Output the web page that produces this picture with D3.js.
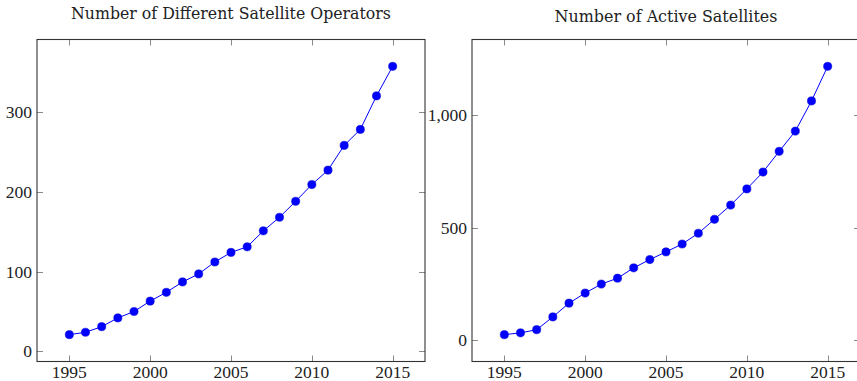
<!DOCTYPE html>
<html><head><meta charset="utf-8">
<script src="https://cdn.jsdelivr.net/npm/d3@7"></script>
<style>
html,body{margin:0;padding:0;background:#fff;}
svg{display:block;}
text{font-family:"Liberation Serif","Times New Roman",serif;fill:#222;}
text.title{font-family:"DejaVu Serif",serif;}
</style></head>
<body>
<svg id="chart" width="857" height="381"></svg>
<script>
const years = [1995,1996,1997,1998,1999,2000,2001,2002,2003,2004,2005,2006,2007,2008,2009,2010,2011,2012,2013,2014,2015];
const operators = [21,24,31,42,50,63,74,87,97,112,124,131,151,168,188,209,227,258,278,320,357];
const activeSatellites = [24,32,46,103,164,209,249,275,321,358,392,427,475,537,600,672,747,839,929,1063,1217];
const xTicks = [1995,2000,2005,2010,2015];
const operatorTicks = [0,100,200,300];
const activeTicks = [0,500,1000];
const titles = ["Number of Different Satellite Operators","Number of Active Satellites"];

const svg = d3.select("#chart");
const panels = [
  {title: titles[0], values: operators, yTicks: operatorTicks, left: 37, right: 425, titleY: 18.5, titleW: 320},
  {title: titles[1], values: activeSatellites, yTicks: activeTicks, left: 472, right: 860, titleY: 21.5, titleW: 223}
];
const plotTop = 39.5, plotBottom = 361.5;
const fmt = d3.format(",");

panels.forEach(p => {
  const ext = d3.extent(p.values);
  const pad = (ext[1]-ext[0])*0.1;
  const x = d3.scaleLinear().domain([1993, 2017]).range([p.left, p.right]);
  const y = d3.scaleLinear().domain([ext[0]-pad, ext[1]+pad]).range([plotBottom, plotTop]);
  const g = svg.append("g");

  const tl = 6;
  const tickG = g.append("g").attr("stroke","#8a8a8a").attr("stroke-width",1);
  xTicks.forEach(t => {
    const xx = Math.round(x(t))+0.5;
    tickG.append("line").attr("x1",xx).attr("x2",xx).attr("y1",plotBottom).attr("y2",plotBottom-tl);
    tickG.append("line").attr("x1",xx).attr("x2",xx).attr("y1",plotTop).attr("y2",plotTop+tl);
  });
  p.yTicks.forEach(t => {
    const yy = Math.round(y(t))+0.5;
    tickG.append("line").attr("x1",p.left).attr("x2",p.left+tl).attr("y1",yy).attr("y2",yy);
    tickG.append("line").attr("x1",p.right).attr("x2",p.right-tl).attr("y1",yy).attr("y2",yy);
  });

  g.append("rect").attr("x",p.left).attr("y",plotTop).attr("width",p.right-p.left).attr("height",plotBottom-plotTop)
    .attr("fill","none").attr("stroke","#333").attr("stroke-width",1.1);

  xTicks.forEach(t => {
    g.append("text").attr("x",x(t)).attr("y",378).attr("text-anchor","middle")
      .style("font-size","17.5px").text(t);
  });
  p.yTicks.forEach(t => {
    g.append("text").attr("x",p.left-5).attr("y",y(t)).attr("dy","0.34em").attr("text-anchor","end")
      .style("font-size","17.5px").text(fmt(t));
  });

  const tt = g.append("text").attr("class","title").attr("x",(p.left+p.right)/2).attr("y",p.titleY)
    .attr("text-anchor","middle").style("font-size","13px").text(p.title);
  const w = tt.node().getComputedTextLength();
  tt.style("font-size",(13*p.titleW/w)+"px");

  const pts = years.map((yr,i)=>[yr,p.values[i]]);
  g.append("path").datum(pts).attr("fill","none").attr("stroke","#0000ff").attr("stroke-width",1)
    .attr("d", d3.line().x(d=>x(d[0])).y(d=>y(d[1])));
  g.selectAll("circle.m").data(pts).enter().append("circle").attr("class","m")
    .attr("cx",d=>x(d[0])).attr("cy",d=>y(d[1])).attr("r",4.1)
    .attr("fill","#0000ff").attr("stroke","#0000cc").attr("stroke-width",0.5);
});
</script>
</body></html>
